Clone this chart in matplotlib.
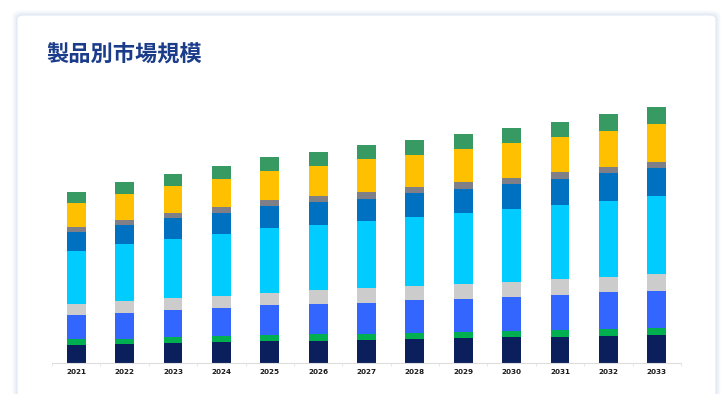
import matplotlib
matplotlib.use("Agg")
import matplotlib.pyplot as plt
from matplotlib.patches import FancyBboxPatch
import numpy as np

plt.rcParams['font.family'] = ['Noto Sans CJK JP', 'DejaVu Sans']

years = ["2021", "2022", "2023", "2024", "2025", "2026", "2027",
         "2028", "2029", "2030", "2031", "2032", "2033"]

seg_navy   = [18.0, 18.6, 19.6, 20.6, 21.6, 22.0, 22.3, 23.7, 24.4, 25.4, 26.0, 26.7, 27.7]
seg_green  = [5.3, 5.4, 6.0, 6.0, 6.0, 6.7, 6.7, 6.3, 6.6, 6.6, 6.7, 6.7, 6.7]
seg_blue   = [24.0, 26.0, 27.0, 28.0, 29.7, 30.0, 31.0, 32.4, 33.0, 34.0, 35.3, 37.0, 37.3]
seg_lgray  = [11.3, 11.3, 12.0, 12.4, 12.7, 13.7, 14.3, 14.3, 14.7, 14.7, 15.7, 15.6, 16.7]
seg_cyan   = [53.3, 57.0, 59.4, 61.3, 64.3, 65.3, 67.0, 68.7, 70.7, 73.0, 74.0, 76.0, 78.6]
seg_mblue  = [18.3, 19.0, 20.3, 21.3, 22.3, 22.7, 22.3, 24.0, 24.6, 25.0, 26.0, 27.4, 27.4]
seg_gray   = [5.3, 5.3, 5.7, 5.7, 5.7, 6.0, 6.7, 6.0, 6.7, 6.3, 6.7, 6.6, 6.6]
seg_gold   = [24.0, 25.7, 26.3, 28.0, 29.3, 30.0, 33.3, 32.3, 33.0, 34.7, 35.6, 36.0, 37.4]
seg_tgreen = [11.3, 12.0, 12.7, 13.0, 13.7, 14.0, 14.0, 14.7, 14.7, 15.0, 15.0, 16.4, 17.0]

series = [seg_navy, seg_green, seg_blue, seg_lgray, seg_cyan,
          seg_mblue, seg_gray, seg_gold, seg_tgreen]
colors = ['#0a1f5c', '#00b050', '#3366ff', '#cccccc', '#00ccff',
          '#0070c0', '#7f7f87', '#ffc000', '#379a62']

W, H = 728, 394
fig = plt.figure(figsize=(W / 100, H / 100), dpi=100)
fig.patch.set_facecolor('white')

# card shadow + card
cx0, cy0, cx1, cy1 = 17, 15, 716, 420
for i, a in enumerate([0.06, 0.08, 0.10, 0.13, 0.16]):
    g = 5 - i
    sh = FancyBboxPatch(((cx0 - g) / W, 1 - (cy1 + g) / H),
                        (cx1 - cx0 + 2 * g) / W, (cy1 - cy0 + 2 * g) / H,
                        boxstyle="round,pad=0,rounding_size=0.014",
                        transform=fig.transFigure, facecolor='#c5d3ea',
                        edgecolor='none', alpha=a, zorder=0)
    fig.patches.append(sh)
card = FancyBboxPatch((cx0 / W, 1 - cy1 / H), (cx1 - cx0) / W, (cy1 - cy0) / H,
                      boxstyle="round,pad=0,rounding_size=0.01",
                      transform=fig.transFigure, facecolor='white',
                      edgecolor='#e3eaf4', linewidth=0.8, zorder=1)
fig.patches.append(card)

fig.text(46 / W, 1 - 55 / H, "製品別市場規模", fontsize=16, fontweight='bold',
         color='#1b3c8a', va='center', ha='left', zorder=3)

ax_left, ax_right = 52, 681
ax_bottom, ax_top = 362.5, 100
ax = fig.add_axes([ax_left / W, 1 - ax_bottom / H,
                   (ax_right - ax_left) / W, (ax_bottom - ax_top) / H])
ax.set_zorder(2)
ax.patch.set_alpha(0)

x = np.arange(len(years))
bottom = np.zeros(len(years))
for vals, c in zip(series, colors):
    v = np.array(vals)
    ax.bar(x, v, width=0.39, bottom=bottom, color=c, edgecolor='none', linewidth=0)
    bottom += v

ax.set_xlim(-0.5, len(years) - 0.5)
ax.set_ylim(0, ax_bottom - ax_top)
ax.set_xticks(x)
ax.set_xticklabels(years, fontsize=5.2, fontweight='bold', color='#1a1a1a',
                   family=['DejaVu Sans'])
ax.set_xticks(np.arange(-0.5, len(years), 1.0), minor=True)
ax.tick_params(axis='x', which='major', length=0, pad=5)
ax.tick_params(axis='x', which='minor', length=2, color='#e4e4e4', width=0.6)
ax.set_yticks([])
for s in ['top', 'right', 'left']:
    ax.spines[s].set_visible(False)
ax.spines['bottom'].set_color('#dddddd')
ax.spines['bottom'].set_linewidth(0.8)

fig.savefig('out.png', dpi=100)
